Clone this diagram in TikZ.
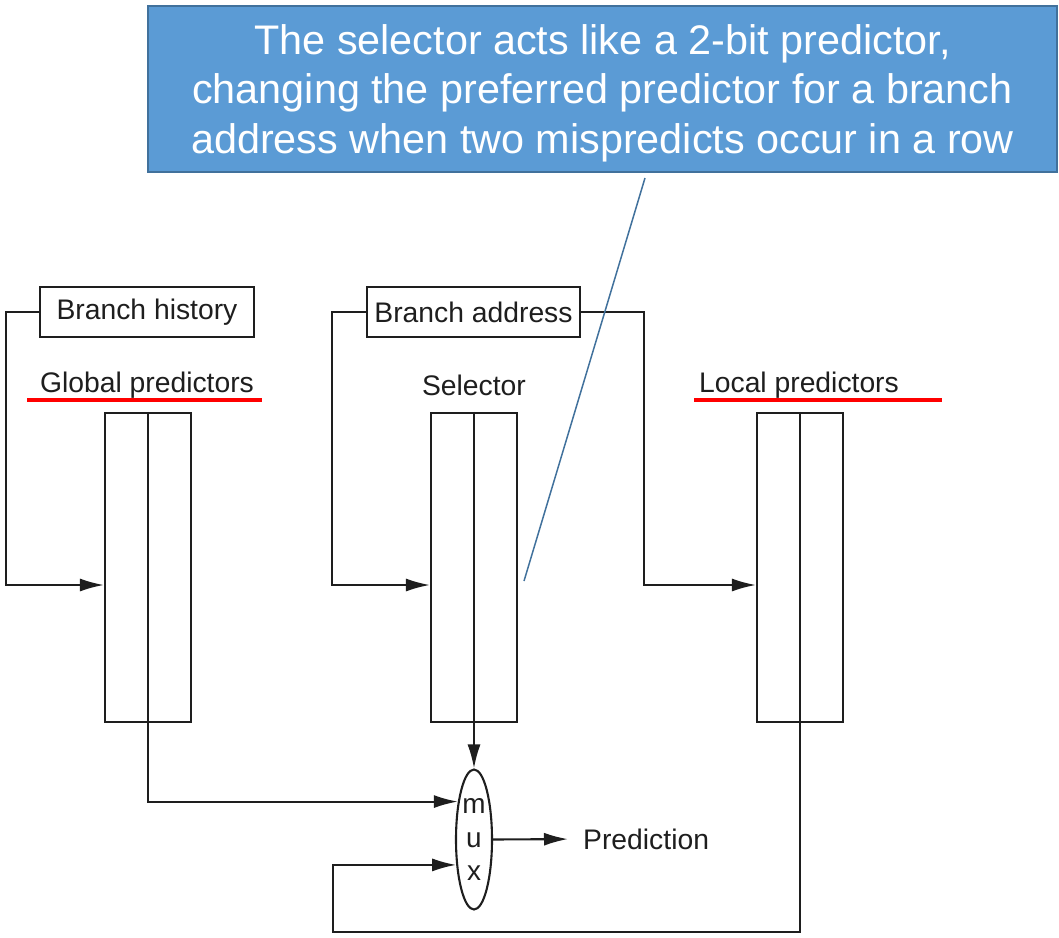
\documentclass[tikz,border=0pt]{standalone}
\usepackage{fontspec}
\setmainfont{Liberation Sans}
\usetikzlibrary{shapes.geometric,arrows.meta}
\definecolor{ink}{HTML}{1E1E1E}
\definecolor{callfill}{HTML}{5B9BD5}
\definecolor{callline}{HTML}{41719C}
\begin{document}
\begin{tikzpicture}[x=1bp,y=-1bp,
  every node/.style={text=ink},
  lbl/.style={font=\fontsize{28.4}{32}\selectfont},
  inbox/.style={draw=ink,line width=2.1bp,minimum width=214bp,minimum height=50bp,inner sep=0pt,font=\fontsize{28.4}{32}\selectfont},
  table/.style={draw=ink,line width=2.1bp,minimum width=86bp,minimum height=309bp,inner sep=0pt},
  wire/.style={draw=ink,line width=2.1bp},
  arr/.style={wire,-{Latex[length=24bp,width=13bp]}},
  redline/.style={draw=red,line width=4.5bp}]
\useasboundingbox (0,0) rectangle (1059,938);
% callout
\node[draw=callline,fill=callfill,line width=1.5bp,minimum width=909bp,minimum height=166bp,
  inner sep=0pt] (callout) at (602.5,89) {};
\node[inner sep=0pt,align=center,text=white,font=\fontsize{41.5}{49.5}\selectfont] (callouttext)
  at ([yshift=-4bp]callout.center)
  {The selector acts like a 2-bit predictor,\\changing the preferred predictor for a branch\\address when two mispredicts occur in a row};
% input boxes
\node[inbox] (bh) at (147,312) {Branch history};
\node[inbox,minimum width=213bp] (ba) at (473.5,312) {Branch address};
% labels
\node[lbl] (glabel) at (147,385) {Global predictors};
\node[lbl] (slabel) at (474,385) {Selector};
\node[lbl] (llabel) at (799,385) {Local predictors};
\draw[redline] (27,400) -- (262,400);
\draw[redline] (694,400) -- (942,400);
% tables
\node[table] (glob) at (148,567.5) {};
\node[table] (sel) at (474,567.5) {};
\node[table] (loc) at (800,567.5) {};
\draw[wire] (glob.north) -- (glob.south);
\draw[wire] (sel.north) -- (sel.south);
\draw[wire] (loc.north) -- (loc.south);
% mux
\node[draw=ink,line width=2.1bp,ellipse,minimum width=36bp,minimum height=140bp,inner sep=0pt,
  align=center,font=\fontsize{28}{34}\selectfont] (mux) at (474,839.5) {m\\u\\x};
\node[lbl,anchor=west,inner sep=0pt] (pred) at (583,839) {Prediction};
% connectors
\draw[arr] (bh.west) -- ++(-33,0) |- ([yshift=-17.5bp]glob.west);
\draw[arr] (ba.west) -- ++(-34,0) |- ([yshift=-17.5bp]sel.west);
\draw[arr] (ba.east) -- ++(63,0) |- ([yshift=-17.5bp]loc.west);
\draw[arr] (glob.south) |- (mux.113);
\draw[arr] (sel.south) -- (mux.north);
\coordinate (lb) at (333,932);
\draw[arr] (loc.south) |- (lb) |- (mux.235);
\draw[arr,shorten >=15bp] (mux.east) -- (pred.west);
% callout pointer
\coordinate (ptop) at (645,178);
\coordinate (ptip) at (524,581);
\draw[callline,line width=1.5bp] (ptop) -- (ptip);
\end{tikzpicture}
\end{document}
